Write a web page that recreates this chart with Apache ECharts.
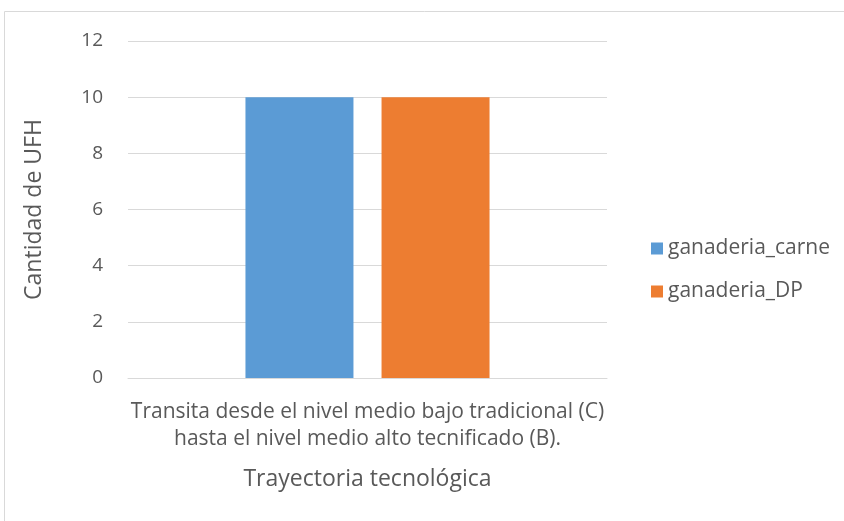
<!DOCTYPE html>
<html>
<head>
<meta charset="utf-8">
<script src="https://cdn.jsdelivr.net/npm/echarts@6/dist/echarts.min.js"></script>
<style>
  html, body { margin: 0; padding: 0; background: #fff; }
  #chart { width: 844px; height: 521px; }
</style>
</head>
<body>
<div id="chart"></div>
<script>
  // datos
  var categories = ['Transita desde el nivel medio bajo tradicional (C)\nhasta el nivel medio alto tecnificado (B).'];
  var carne = [10];
  var dp = [10];
  var yTicks = [0, 2, 4, 6, 8, 10, 12];

  var font = '"Open Sans", sans-serif';
  var txt = '#595959';

  var chart = echarts.init(document.getElementById('chart'));
  var option = {
    animation: false,
    textStyle: { fontFamily: font },
    graphic: [{
      type: 'rect',
      shape: { x: 4.5, y: 11.5, width: 850, height: 530 },
      style: { fill: 'none', stroke: '#d9d9d9', lineWidth: 1 }
    }],
    grid: { left: 128, right: 237, top: 41, bottom: 143 },
    legend: {
      orient: 'vertical',
      left: 646,
      top: 233,
      itemWidth: 12,
      itemHeight: 12,
      itemGap: 22,
      itemTextGap: 5,
      icon: 'rect',
      textStyle: { color: txt, fontSize: 21, fontFamily: font },
      data: ['ganaderia_carne', 'ganaderia_DP']
    },
    xAxis: {
      type: 'category',
      data: categories,
      name: 'Trayectoria tecnológica',
      nameLocation: 'middle',
      nameGap: 90,
      nameTextStyle: { color: txt, fontSize: 23, fontFamily: font },
      axisLine: { lineStyle: { color: '#d9d9d9' } },
      axisTick: { show: false },
      axisLabel: { color: txt, fontSize: 21, lineHeight: 27, margin: 21, fontFamily: font }
    },
    yAxis: {
      type: 'value',
      min: yTicks[0],
      max: yTicks[yTicks.length - 1],
      interval: 2,
      name: 'Cantidad de UFH',
      nameLocation: 'middle',
      nameGap: 82,
      nameTextStyle: { color: txt, fontSize: 23, fontFamily: font },
      axisLine: { show: false },
      axisTick: { show: false },
      splitLine: { lineStyle: { color: '#d9d9d9' } },
      axisLabel: { color: txt, fontSize: 19, margin: 25, fontFamily: font }
    },
    series: [
      {
        name: 'ganaderia_carne',
        type: 'bar',
        data: carne,
        barWidth: 108,
        barGap: '26%',
        itemStyle: { color: '#5b9bd5' }
      },
      {
        name: 'ganaderia_DP',
        type: 'bar',
        data: dp,
        barWidth: 108,
        itemStyle: { color: '#ed7d31' }
      }
    ]
  };
  chart.setOption(option);
</script>
</body>
</html>
